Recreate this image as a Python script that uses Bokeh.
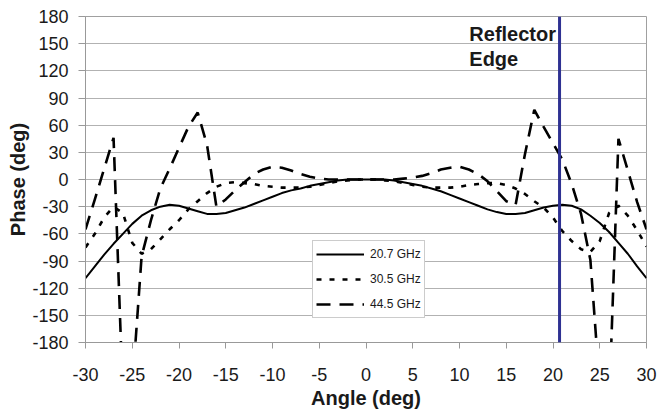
from bokeh.plotting import figure
from bokeh.models import (Range1d, FixedTicker, Label, Legend, LegendItem, Span,
                          PrintfTickFormatter)
from bokeh.embed import file_html
from bokeh.resources import INLINE

# ---- data ----
angles = list(range(-30, 31))
phase_20_7 = [-109, -96, -83, -71, -60, -49, -40, -34, -30, -28,
              -29, -32, -35, -38, -38, -37, -34, -31, -27, -23,
              -19, -15, -12, -10, -7, -5, -3, -1, 0, 0,
              0,
              0, 0, -1, -3, -5, -7, -10, -13, -17, -21,
              -25, -29, -33, -36, -38, -38, -37, -34, -31, -29,
              -28, -29, -33, -40, -48, -58, -70, -82, -96, -109]
phase_30_5 = [-75, -60, -42, -30, -37, -70, -82, -77, -66, -55,
              -45, -33, -24, -15, -8, -4, -3, -4, -5, -7,
              -8, -9, -9, -9, -8, -6, -4, -2, -1, 0,
              0,
              0, -1, -2, -4, -6, -8, -9, -9, -9, -8,
              -6, -5, -4, -4, -6, -10, -16, -24, -31, -42,
              -57, -68, -77, -80, -68, -37, -29, -40, -56, -74]
phase_44_5 = [-55, -22, 12, 46, -240, -230, -85, -45, -10, 12,
              35, 58, 74, 38, -30, -22, -12, -3, 6, 11,
              14, 13, 10, 6, 3, 1, 0, 0, 0, 0,
              0,
              0, 0, 0, 1, 2, 4, 7, 11, 13, 14,
              11, 6, -2, -13, -24, -28, 28, 77, 58, 40,
              22, -5, -38, -89, -230, -250, 45, 10, -25, -55]
series_labels = ["20.7 GHz", "30.5 GHz", "44.5 GHz"]
reflector_edge_angle = 20.7
x_ticks = list(range(-30, 31, 5))
y_ticks = list(range(-180, 181, 30))

FONT = "Liberation Sans"
GRID = "#b2b2b2"
TEXT = "#1a1a1a"

p = figure(width=657, height=415, output_backend="svg", toolbar_location=None,
           x_range=Range1d(-30, 30), y_range=Range1d(-180, 180),
           min_border_left=85, min_border_right=11, min_border_top=16,
           min_border_bottom=73)
p.background_fill_color = "white"
p.border_fill_color = "white"
p.outline_line_color = "#a0a0a0"
p.outline_line_width = 1

p.xaxis.ticker = FixedTicker(ticks=x_ticks)
p.yaxis.ticker = FixedTicker(ticks=y_ticks)
for ax in (p.xaxis, p.yaxis):
    ax.formatter = PrintfTickFormatter(format="%d")
    ax.minor_tick_line_color = None
    ax.major_tick_in = 0
    ax.axis_line_color = "#999999"
    ax.major_tick_line_color = "#999999"
    ax.major_label_text_font = FONT
    ax.major_label_text_font_size = "18px"
    ax.major_label_text_color = TEXT
    ax.axis_label_text_font = FONT
    ax.axis_label_text_font_size = "20px"
    ax.axis_label_text_font_style = "bold"
    ax.axis_label_text_color = TEXT
p.xaxis.major_tick_out = 6
p.yaxis.major_tick_out = 7
p.xaxis.major_label_standoff = 19
p.yaxis.major_label_standoff = 10
p.xaxis.axis_label = "Angle (deg)"
p.yaxis.axis_label = "Phase (deg)"
p.xaxis.axis_label_standoff = 3
p.yaxis.axis_label_standoff = 0

p.xgrid.visible = False
p.ygrid.grid_line_color = GRID
p.ygrid.grid_line_width = 1.2

r1 = p.line(angles, phase_20_7, line_color="black", line_width=2)
r2 = p.line(angles, phase_30_5, line_color="black", line_width=2.6,
            line_dash="5 8")
r3 = p.line(angles, phase_44_5, line_color="black", line_width=2.6,
            line_dash="14 9")

edge = Span(location=reflector_edge_angle, dimension="height",
            line_color="#2e3192", line_width=3)
p.add_layout(edge)

for txt, yv in (("Reflector", 160.2), ("Edge", 132.6)):
    p.add_layout(Label(x=11.05, y=yv, text=txt, text_font=FONT,
                       text_font_size="20px", text_font_style="bold",
                       text_color=TEXT, text_baseline="alphabetic",
                       text_align="left"))

legend = Legend(items=[LegendItem(label=series_labels[0], renderers=[r1]),
                       LegendItem(label=series_labels[1], renderers=[r2]),
                       LegendItem(label=series_labels[2], renderers=[r3])],
                location=(227, 24))
legend.glyph_width = 48
legend.glyph_height = 20
legend.label_height = 20
legend.spacing = 5
legend.padding = 3
legend.margin = 0
legend.label_standoff = 6
legend.border_line_color = "#999999"
legend.label_text_font = FONT
legend.label_text_font_size = "12px"
legend.label_text_color = TEXT
legend.background_fill_color = "white"
legend.background_fill_alpha = 1
p.add_layout(legend)

open("out.html", "w").write(file_html(p, INLINE))
